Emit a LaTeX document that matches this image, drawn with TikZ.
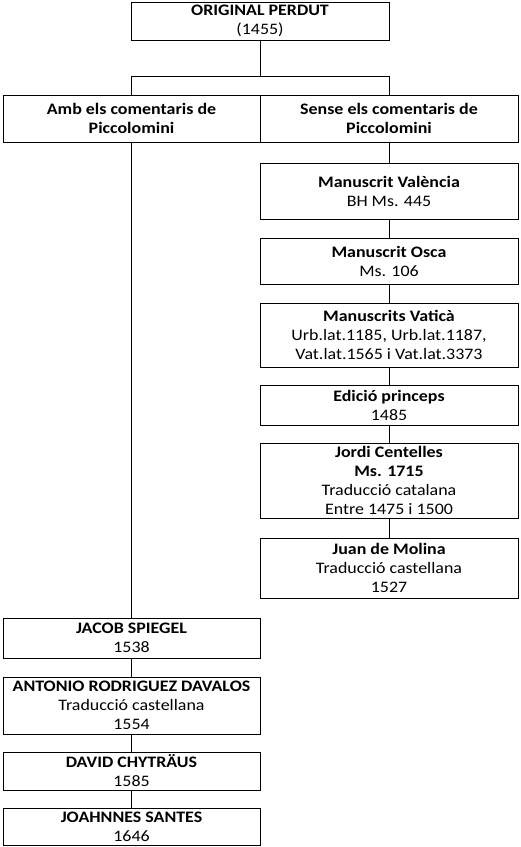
\documentclass[tikz,border=0pt]{standalone}
\usepackage{fontspec}
\setmainfont{Carlito}[FakeStretch=1.12]
\tikzset{
  box/.style={draw=black, line width=1pt, align=center, inner sep=0pt,
              font=\fontsize{16}{19}\selectfont},
  rbox/.style={box, minimum width=258},
  lbox/.style={box, minimum width=257},
  link/.style={draw=black, line width=1pt}
}
\begin{document}
\begin{tikzpicture}[x=1pt,y=-1pt]
\path[use as bounding box] (0,0) rectangle (520,847);
% top
\node[box, minimum width=258, minimum height=38] (orig) at (260,21) {\textbf{ORIGINAL PERDUT}\\(1455)};
\node[lbox, minimum height=47] (amb) at (131.5,118.5) {\textbf{Amb els comentaris de}\\\textbf{Piccolomini}};
\node[rbox, minimum height=47] (sense) at (389,118.5) {\textbf{Sense els comentaris de}\\\textbf{Piccolomini}};
\coordinate (hub) at (260,76);
% right column
\node[rbox, minimum height=56] (val) at (389,191) {\textbf{Manuscrit València}\\BH Ms. 445};
\node[rbox, minimum height=46] (osca) at (389,261) {\textbf{Manuscrit Osca}\\Ms. 106};
\node[rbox, minimum height=64] (vat) at (389,335) {\textbf{Manuscrits Vaticà}\\Urb.lat.1185, Urb.lat.1187,\\Vat.lat.1565 i Vat.lat.3373};
\node[rbox, minimum height=40] (ed) at (389,405) {\textbf{Edició princeps}\\1485};
\node[rbox, minimum height=75] (jordi) at (389,480.5) {\textbf{Jordi Centelles}\\\textbf{Ms. 1715}\\Traducció catalana\\Entre 1475 i 1500};
\node[rbox, minimum height=60] (juan) at (389,568) {\textbf{Juan de Molina}\\Traducció castellana\\1527};
% left column
\node[lbox, minimum height=40] (jacob) at (131.5,638) {\textbf{JACOB SPIEGEL}\\1538};
\node[lbox, minimum height=57] (anton) at (131.5,705.5) {\textbf{ANTONIO RODRIGUEZ DAVALOS}\\Traducció castellana\\1554};
\node[lbox, minimum height=38] (david) at (131.5,771) {\textbf{DAVID CHYTRÄUS}\\1585};
\node[lbox, minimum height=37] (joah) at (131.5,826.5) {\textbf{JOAHNNES SANTES}\\1646};
% connectors
\draw[link] (orig.south) -- (hub);
\draw[link] (amb.north) -- (amb.north |- hub) -- (sense.north |- hub) -- (sense.north);
\draw[link] (sense.south) -- (val.north);
\draw[link] (val.south) -- (osca.north);
\draw[link] (osca.south) -- (vat.north);
\draw[link] (vat.south) -- (ed.north);
\draw[link] (ed.south) -- (jordi.north);
\draw[link] (jordi.south) -- (juan.north);
\draw[link] (amb.south) -- (jacob.north);
\draw[link] (jacob.south) -- (anton.north);
\draw[link] (anton.south) -- (david.north);
\draw[link] (david.south) -- (joah.north);
\end{tikzpicture}
\end{document}
